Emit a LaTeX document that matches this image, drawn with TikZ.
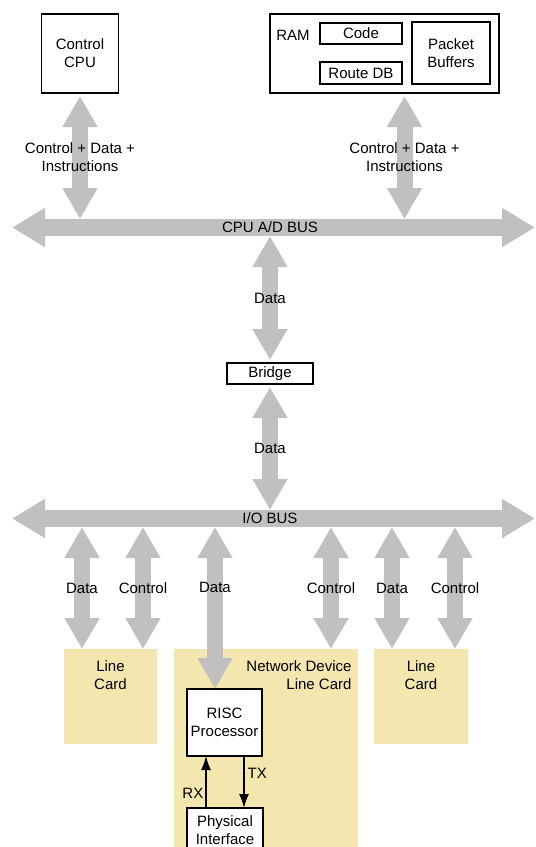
\documentclass[tikz,border=0pt]{standalone}
\usepackage{fontspec}
\setmainfont{Liberation Sans}
\usetikzlibrary{positioning, arrows.meta, calc}
\definecolor{cardfill}{RGB}{244,230,175}
\definecolor{busgray}{RGB}{192,192,192}

\begin{document}
\begin{tikzpicture}[x=1pt, y=-1pt]
    \tikzset{
        every node/.style={font=\fontsize{15}{18}\selectfont},
        box/.style={
                draw=black, line width=1.3pt, fill=white, inner sep=0pt, align=center, outer sep=3pt
            },
        bus/.style={
                draw=busgray, line width=17pt, {Triangle[width=37pt,length=33pt]}-{Triangle[width=37pt,length=33pt]}
            },
        link/.style={
                draw=busgray, line width=16pt, {Triangle[width=33pt,length=31pt]}-{Triangle[width=33pt,length=31pt]}
            },
        card/.style={fill=cardfill, inner sep=0pt, outer sep=0pt},
        sig/.style={draw=black, line width=1.4pt, -{Latex[length=14pt,width=10pt]}},
        bus label/.style={inner sep=0pt, minimum height=17pt, outer sep=0pt}
    }

    \useasboundingbox (0,0) rectangle (536,847);

    % top: control cpu and memory
    \node[box, minimum width=77pt, minimum height=79pt] (ctrlcpu) at (80,53.5) {Control\\CPU};
    \node[box, minimum width=229pt, minimum height=79pt] (ram) at (384.5,53.5) {};
    \node (ramlabel) at (293,35) {RAM};
    \node[box, minimum width=82pt, minimum height=21pt] (code) at (361,33.5) {Code};
    \node[box, minimum width=82pt, minimum height=22pt] (routedb) at (361,73) {Route DB};
    \node[box, minimum width=78pt, minimum height=62pt] (pktbuf) at (451,53) {Packet\\Buffers};

    % cpu bus
    \coordinate (cpuL) at (12,227.5);
    \coordinate (cpuR) at (535,227.5);
    \draw[bus] (cpuL) -- (cpuR);
    \node[bus label] (cpubus) at (270,227.5) {CPU A/D BUS};

    \draw[link] (ctrlcpu.south) -- (ctrlcpu.south |- cpubus.north)
        node[midway, align=center, inner sep=0pt] {Control + Data +\\Instructions};
    \draw[link] ([xshift=20pt]ram.south) -- ([xshift=20pt]ram.south |- cpubus.north)
        node[midway, align=center, inner sep=0pt] {Control + Data +\\Instructions};

    % bridge
    \node[box, minimum width=86pt, minimum height=21pt] (bridge) at (270,373.5) {Bridge};
    \draw[link] (cpubus.south) -- (bridge.north) node[midway] {Data};

    % i/o bus
    \coordinate (ioL) at (12,518.5);
    \coordinate (ioR) at (535,518.5);
    \draw[bus] (ioL) -- (ioR);
    \node[bus label] (iobus) at (270,518.5) {I/O BUS};
    \draw[link] (bridge.south) -- (iobus.north) node[midway] {Data};

    % line cards
    \node[card, minimum width=93pt, minimum height=95pt,
        label={[anchor=north, align=center, yshift=-8pt]north:Line\\Card}] (cardA) at (110.5,696.5) {};
    \node[card, minimum width=184pt, minimum height=201pt,
        label={[anchor=north east, align=right, xshift=-3pt, yshift=-8pt]north east:Network Device\\Line Card}] (netcard) at (266,749.5) {};
    \node[card, minimum width=94pt, minimum height=95pt,
        label={[anchor=north, align=center, yshift=-8pt]north:Line\\Card}] (cardB) at (421,696.5) {};

    \foreach \xpos/\tag/\dest [count=\i] in {82/Data/cardA, 143/Control/cardA, 331/Control/netcard, 392/Data/cardB, 455/Control/cardB}{
        \coordinate (drop\i) at (\xpos,0);
        \draw[link] (iobus.south -| drop\i) -- (\dest.north -| drop\i) node[midway] {\tag};
    }

    % network device internals
    \node[box, outer sep=0pt, minimum width=75pt, minimum height=67pt] (risc) at (224.5,722.5) {RISC\\Processor};
    \node[box, outer sep=0pt, minimum width=76pt, minimum height=44pt] (phys) at (225,830) {Physical\\Interface};

    \coordinate (drop6) at (215,0);
    \draw[link] (iobus.south -| drop6) -- (risc.north -| drop6) node[pos=0.37] {Data};

    \coordinate (rxpos) at (206,0);
    \coordinate (txpos) at (244,0);
    \draw[sig] (phys.north -| rxpos) -- (risc.south -| rxpos) node[pos=0.29, left, inner sep=2pt] {RX};
    \draw[sig] (risc.south -| txpos) -- (phys.north -| txpos) node[pos=0.33, right, inner sep=3pt] {TX};
\end{tikzpicture}
\end{document}
